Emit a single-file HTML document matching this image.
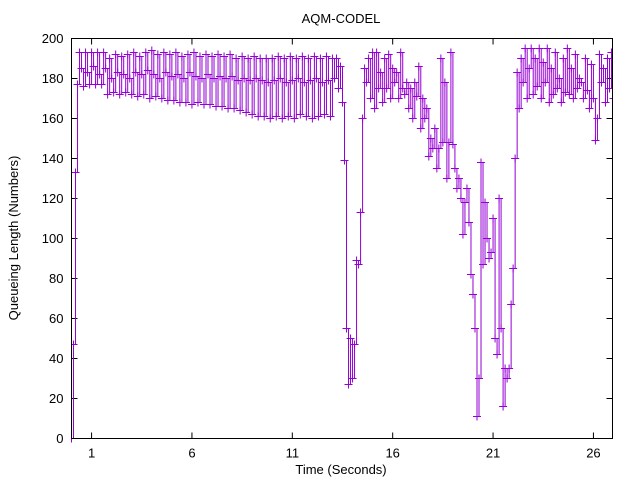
<!DOCTYPE html>
<html><head><meta charset="utf-8"><style>
body{margin:0;background:#fff}
svg{display:block;font-family:"Liberation Sans",sans-serif}
</style></head><body>
<svg id="chart" width="640" height="480">
<defs><clipPath id="clip"><rect x="71" y="30" width="542" height="420"/></clipPath></defs>
<rect width="640" height="480" fill="#fff"/>
<text x="341" y="23" font-size="13" text-anchor="middle">AQM-CODEL</text>
<g id="axes"></g>
<g clip-path="url(#clip)">
<path id="line" fill="none" stroke="#9400d3" stroke-width="1"></path>
<g id="pts" stroke="#9400d3" stroke-width="1"></g>
</g>
<rect x="71.5" y="38.5" width="541" height="400" fill="none" stroke="#000" stroke-width="1"/>
<text x="341" y="474" font-size="13" text-anchor="middle">Time (Seconds)</text>
<text transform="translate(18,238) rotate(-90)" font-size="13" text-anchor="middle">Queueing Length (Numbers)</text>
</svg>
<script>
const xTicks=[1,6,11,16,21,26];
const yTicks=[0,20,40,60,80,100,120,140,160,180,200];
const dt=0.1;
const queueValues=[0,47,133,177,193,185,176,193,183,177,193,186,177,193,182,177,193,185,172,190,180,173,192,183,172,191,182,173,192,180,172,193,183,171,191,182,172,193,184,170,194,182,171,192,180,170,193,183,169,192,181,169,193,182,168,191,180,168,192,183,167,193,181,168,191,180,167,192,182,167,191,180,166,192,181,166,191,180,165,192,181,165,190,179,164,191,180,163,190,179,162,191,180,161,190,179,161,190,178,160,
190,179,161,191,180,160,190,178,161,191,179,160,190,180,162,191,178,161,190,179,160,191,180,161,190,178,162,191,179,161,190,180,
190,175,186,168,139,55,27,50,30,47,89,87,113,160,185,178,190,170,193,165,193,175,183,168,190,175,192,170,185,178,183,170,193,175,172,178,165,175,160,178,171,186,155,170,160,165,141,150,145,155,135,145,190,148,178,130,148,193,147,135,125,130,120,102,118,125,108,82,72,55,11,30,138,87,118,100,90,93,110,50,42,120,55,16,35,30,35,67,85,140,183,165,190,178,195,170,185,195,172,190,176,195,170,188,178,195,168,185,172,193,175,180,168,190,173,195,172,185,170,192,175,180,178,170,190,174,165,187,170,149,160,192,178,185,168,190,175,193,170,180,166,194,178,157];
const X0=71.5,X1=612.5,Y0=438.5,Y1=38.5,XMIN=0,XMAX=26.95;
const sx=t=>X0+(t-XMIN)/(XMAX-XMIN)*(X1-X0);
const sy=v=>Y0-(v/200)*(Y0-Y1);
const NS="http://www.w3.org/2000/svg";
const axes=document.getElementById('axes');
function mk(tag,attrs,parent){const e=document.createElementNS(NS,tag);for(const k in attrs)e.setAttribute(k,attrs[k]);parent.appendChild(e);return e;}
yTicks.forEach(v=>{
  const y=sy(v);
  const t=mk('path',{d:`M${X0},${y}h6M${X1},${y}h-6`,stroke:'#000'},axes);
  
  
  const l=mk('text',{x:X0-8,y:y+4.5,'font-size':13,'text-anchor':'end'},axes);
  l.textContent=v;
  
  
});
xTicks.forEach(v=>{
  const x=sx(v);
  const t=mk('path',{d:`M${x},${Y0}v-6M${x},${Y1}v6`,stroke:'#000'},axes);
  
  
  const l=mk('text',{x:x,y:Y0+19,'font-size':13,'text-anchor':'middle'},axes);
  l.textContent=v;
  
  
});
let d='';
queueValues.forEach((v,i)=>{
  const x=sx(i*dt),y=sy(v);
  if(i===0)d+=`M${x},${y}`;else d+=`H${x}V${y}`;
});
document.getElementById('line').setAttribute('d',d);
const pts=document.getElementById('pts');
queueValues.forEach((v,i)=>{
  const x=sx(i*dt),y=sy(v);
  const p=mk('path',{d:`M${x-4},${y}h8M${x},${y-4}v8`},pts);
  
  
});
</script>
</body></html>
